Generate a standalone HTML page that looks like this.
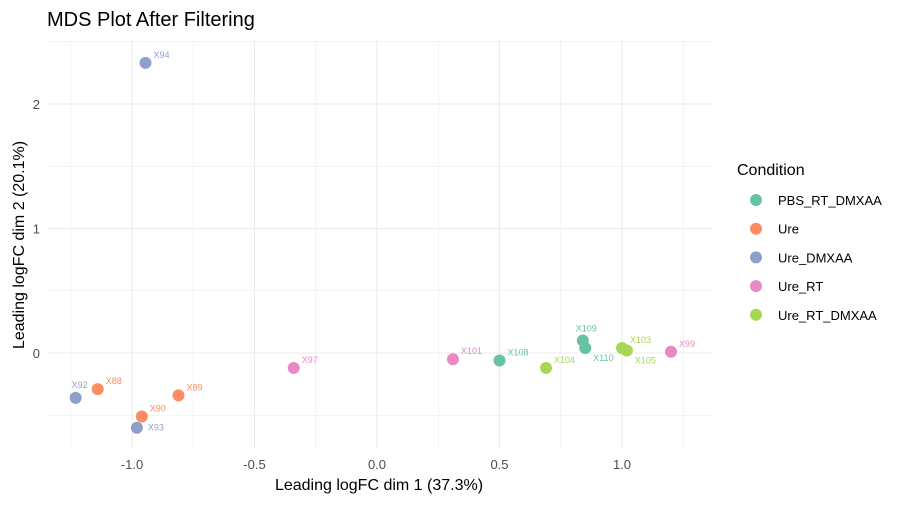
<!DOCTYPE html>
<html><head><meta charset="utf-8"><style>
body{margin:0;background:#fff;font-family:"Liberation Sans",sans-serif}
</style></head><body>
<svg width="912" height="503" xmlns="http://www.w3.org/2000/svg">
<text x="47" y="26" font-size="20" fill="#000">MDS Plot After Filtering</text>
<g id="grid"></g><g id="pts"></g><g id="axes"></g>
<text x="379" y="490" font-size="16" text-anchor="middle" fill="#000">Leading logFC dim 1 (37.3%)</text>
<text transform="translate(24,245) rotate(-90)" font-size="16" text-anchor="middle" fill="#000">Leading logFC dim 2 (20.1%)</text>
<g id="legend"></g>
<script>
const names=["X94","X92","X88","X90","X93","X89","X97","X101","X108","X104","X109","X110","X103","X105","X99"];
const dim1=[-0.945,-1.23,-1.14,-0.96,-0.98,-0.81,-0.34,0.31,0.50,0.69,0.84,0.85,1.00,1.02,1.20];
const dim2=[2.33,-0.36,-0.29,-0.51,-0.60,-0.34,-0.12,-0.05,-0.06,-0.12,0.10,0.04,0.04,0.02,0.01];
const groups=["Ure_DMXAA","Ure_DMXAA","Ure","Ure","Ure_DMXAA","Ure","Ure_RT","Ure_RT","PBS_RT_DMXAA","Ure_RT_DMXAA","PBS_RT_DMXAA","PBS_RT_DMXAA","Ure_RT_DMXAA","Ure_RT_DMXAA","Ure_RT"];
const conditions=["PBS_RT_DMXAA","Ure","Ure_DMXAA","Ure_RT","Ure_RT_DMXAA"];
const xTicks=[-1.0,-0.5,0.0,0.5,1.0];
const yTicks=[0,1,2];
const colors={"PBS_RT_DMXAA":"#66C2A5","Ure":"#FC8D62","Ure_DMXAA":"#8DA0CB","Ure_RT":"#E78AC3","Ure_RT_DMXAA":"#A6D854"};
const NS="http://www.w3.org/2000/svg";
const L=47,R=712,T=40,B=449;
const X=v=>377+v*245, Y=v=>353-v*124.5;
function mk(p,t,a){const e=document.createElementNS(NS,t);for(const k in a)e.setAttribute(k,a[k]);document.getElementById(p).appendChild(e);return e;}
for(let v=-1.25;v<=1.3;v+=0.25){const l=mk('grid','line',{x1:X(v),x2:X(v),y1:T,y2:B,stroke:'#ebebeb','stroke-width':Math.abs(v*2%1)<1e-6?1.1:0.6});

}
for(let v=-0.5;v<=2.6;v+=0.5){const l=mk('grid','line',{x1:L,x2:R,y1:Y(v),y2:Y(v),stroke:'#ebebeb','stroke-width':v%1===0?1.1:0.6});

}
xTicks.forEach(v=>{const t=mk('axes','text',{x:X(v),y:469,'font-size':13,'text-anchor':'middle',fill:'#4d4d4d'});t.textContent=v.toFixed(1);

});
yTicks.forEach(v=>{const t=mk('axes','text',{x:40,y:Y(v)+5,'font-size':13,'text-anchor':'end',fill:'#4d4d4d'});t.textContent=v;

});
const below={"X110":1,"X105":1,"X93":2};
names.forEach((n,i)=>{const c=colors[groups[i]];const cx=X(dim1[i]),cy=Y(dim2[i]);
const p=mk('pts','circle',{cx:cx,cy:cy,r:6,fill:c});


let lx=cx+8,ly=cy-5;if(below[n]===1){lx=cx+8;ly=cy+13;}else if(below[n]===2){lx=cx+11;ly=cy+3;}
if(n==="X109"){lx=cx-7;ly=cy-9;}if(n==="X92"){lx=cx-4;ly=cy-10;}
const t=mk('pts','text',{x:lx,y:ly,'font-size':9,fill:c});t.textContent=n;

});
const ht=mk('legend','text',{x:737,y:175,'font-size':16,fill:'#000'});ht.textContent="Condition";


conditions.forEach((c,i)=>{const y=200+i*28.7;
const d=mk('legend','circle',{cx:756,cy:y,r:6,fill:colors[c]});


const t=mk('legend','text',{x:778,y:y+5,'font-size':13,fill:'#000'});t.textContent=c;

});
</script>
</svg>
</body></html>
